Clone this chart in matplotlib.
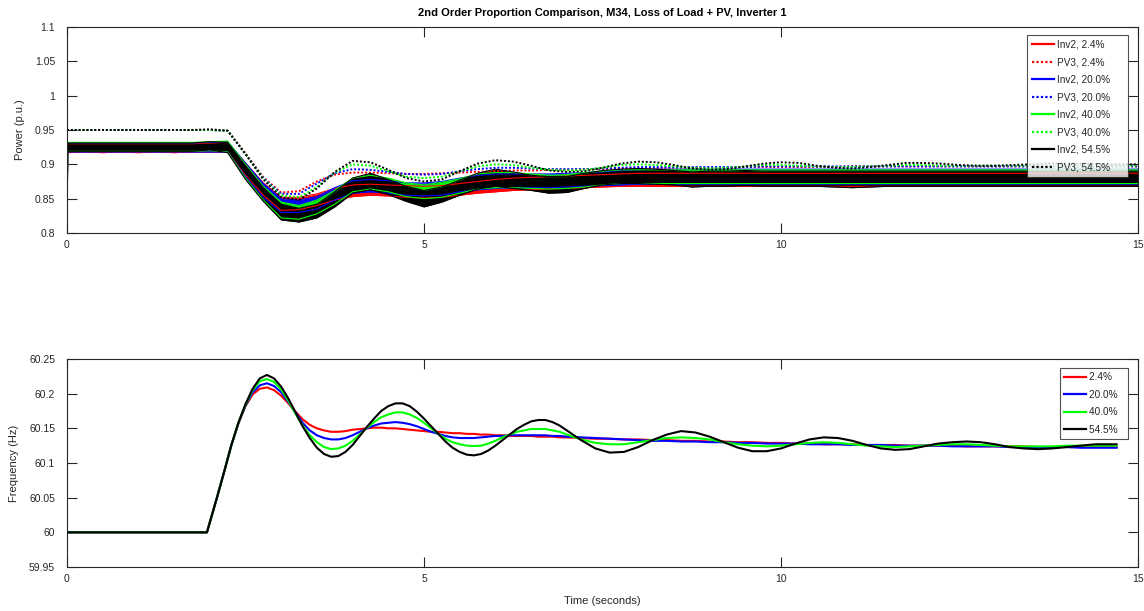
import numpy as np
import matplotlib
matplotlib.use("Agg")
import matplotlib.pyplot as plt

plt.rcParams['font.family'] = ['Liberation Sans', 'DejaVu Sans']

# ---------- DATA ----------
# power time grid (s)
t_pow = [0.0, 0.01] + [0.25 * k for k in range(1, 61)]

# PV3 (dotted) power, p.u.
pv3_24 = [0.950, 0.950, 0.950, 0.950, 0.950, 0.950, 0.950, 0.950, 0.950, 0.950,
          0.949, 0.916, 0.881, 0.859, 0.861, 0.875, 0.885, 0.888, 0.888, 0.887,
          0.886, 0.886, 0.887, 0.888, 0.889, 0.890, 0.891, 0.891, 0.892, 0.892,
          0.893, 0.893, 0.894, 0.894, 0.894, 0.895, 0.895, 0.895, 0.895, 0.896,
          0.896, 0.896, 0.896, 0.896, 0.896, 0.897, 0.897, 0.897, 0.897, 0.897,
          0.897, 0.897, 0.897, 0.897, 0.897, 0.897, 0.897, 0.897, 0.897, 0.897,
          0.897, 0.897]
pv3_20 = [0.950, 0.950, 0.950, 0.950, 0.950, 0.950, 0.950, 0.950, 0.950, 0.950,
          0.949, 0.915, 0.880, 0.857, 0.857, 0.872, 0.887, 0.893, 0.892, 0.889,
          0.886, 0.885, 0.886, 0.890, 0.893, 0.895, 0.895, 0.894, 0.893, 0.893,
          0.893, 0.894, 0.895, 0.896, 0.896, 0.896, 0.896, 0.896, 0.896, 0.896,
          0.897, 0.897, 0.897, 0.897, 0.897, 0.897, 0.897, 0.897, 0.897, 0.897,
          0.897, 0.897, 0.897, 0.897, 0.897, 0.897, 0.897, 0.897, 0.897, 0.897,
          0.897, 0.897]
pv3_40 = [0.950, 0.950, 0.950, 0.950, 0.950, 0.950, 0.950, 0.950, 0.950, 0.950,
          0.949, 0.915, 0.879, 0.855, 0.852, 0.867, 0.888, 0.900, 0.898, 0.890,
          0.882, 0.880, 0.882, 0.890, 0.897, 0.900, 0.899, 0.895, 0.892, 0.891,
          0.892, 0.895, 0.899, 0.900, 0.899, 0.897, 0.895, 0.894, 0.895, 0.897,
          0.899, 0.899, 0.898, 0.897, 0.896, 0.896, 0.897, 0.898, 0.899, 0.899,
          0.898, 0.898, 0.898, 0.898, 0.898, 0.898, 0.898, 0.898, 0.898, 0.898,
          0.898, 0.898]
pv3_545 = [0.950, 0.950, 0.950, 0.950, 0.950, 0.950, 0.950, 0.950, 0.950, 0.951,
           0.949, 0.915, 0.878, 0.852, 0.848, 0.865, 0.889, 0.905, 0.903, 0.892,
           0.880, 0.875, 0.878, 0.890, 0.901, 0.906, 0.904, 0.898, 0.891, 0.889,
           0.890, 0.895, 0.901, 0.904, 0.903, 0.899, 0.894, 0.892, 0.893, 0.897,
           0.901, 0.903, 0.902, 0.898, 0.895, 0.894, 0.896, 0.899, 0.902, 0.902,
           0.901, 0.899, 0.898, 0.898, 0.899, 0.900, 0.901, 0.901, 0.901, 0.900,
           0.900, 0.900]

# Inv2 (noisy) power, lower / upper edge of the noise band, p.u.
inv2_24_lo = [0.800, 0.917, 0.918, 0.917, 0.918, 0.917, 0.918, 0.917, 0.918, 0.918,
              0.918, 0.884, 0.855, 0.833, 0.834, 0.840, 0.848, 0.853, 0.855, 0.854,
              0.852, 0.851, 0.852, 0.855, 0.858, 0.860, 0.862, 0.863, 0.864, 0.865,
              0.866, 0.867, 0.868, 0.868, 0.868, 0.868, 0.868, 0.868, 0.868, 0.868,
              0.868, 0.868, 0.868, 0.868, 0.868, 0.868, 0.868, 0.868, 0.868, 0.868,
              0.868, 0.868, 0.868, 0.868, 0.868, 0.868, 0.868, 0.868, 0.868, 0.868,
              0.868, 0.868]
inv2_24_hi = [0.930, 0.930, 0.930, 0.930, 0.930, 0.930, 0.930, 0.930, 0.930, 0.931,
              0.932, 0.902, 0.873, 0.852, 0.852, 0.857, 0.865, 0.870, 0.871, 0.870,
              0.869, 0.868, 0.869, 0.872, 0.875, 0.878, 0.880, 0.881, 0.882, 0.883,
              0.884, 0.885, 0.886, 0.887, 0.887, 0.887, 0.887, 0.887, 0.887, 0.887,
              0.887, 0.887, 0.887, 0.887, 0.887, 0.887, 0.887, 0.887, 0.887, 0.887,
              0.887, 0.887, 0.887, 0.887, 0.887, 0.887, 0.887, 0.887, 0.887, 0.887,
              0.887, 0.887]
inv2_20_lo = [0.800, 0.918, 0.918, 0.918, 0.918, 0.918, 0.918, 0.918, 0.918, 0.918,
              0.918, 0.882, 0.852, 0.830, 0.830, 0.835, 0.848, 0.858, 0.860, 0.858,
              0.855, 0.854, 0.855, 0.860, 0.863, 0.865, 0.866, 0.866, 0.866, 0.867,
              0.868, 0.869, 0.870, 0.871, 0.871, 0.871, 0.871, 0.871, 0.871, 0.871,
              0.871, 0.871, 0.871, 0.871, 0.871, 0.871, 0.871, 0.871, 0.871, 0.871,
              0.871, 0.871, 0.871, 0.871, 0.871, 0.871, 0.871, 0.871, 0.871, 0.871,
              0.871, 0.871]
inv2_20_hi = [0.931, 0.931, 0.931, 0.931, 0.931, 0.931, 0.931, 0.931, 0.931, 0.932,
              0.933, 0.902, 0.872, 0.850, 0.848, 0.853, 0.866, 0.876, 0.878, 0.876,
              0.873, 0.873, 0.875, 0.880, 0.884, 0.886, 0.886, 0.886, 0.886, 0.887,
              0.888, 0.889, 0.891, 0.892, 0.893, 0.893, 0.893, 0.893, 0.893, 0.893,
              0.893, 0.893, 0.893, 0.893, 0.893, 0.893, 0.893, 0.893, 0.893, 0.893,
              0.893, 0.893, 0.893, 0.893, 0.893, 0.893, 0.893, 0.893, 0.893, 0.893,
              0.893, 0.893]
inv2_40_lo = [0.800, 0.919, 0.919, 0.919, 0.919, 0.919, 0.919, 0.919, 0.919, 0.920,
              0.918, 0.880, 0.848, 0.822, 0.820, 0.828, 0.842, 0.860, 0.864, 0.860,
              0.853, 0.850, 0.852, 0.858, 0.864, 0.866, 0.866, 0.865, 0.864, 0.865,
              0.867, 0.870, 0.872, 0.872, 0.872, 0.872, 0.872, 0.872, 0.872, 0.872,
              0.872, 0.872, 0.872, 0.872, 0.872, 0.872, 0.872, 0.872, 0.872, 0.872,
              0.872, 0.872, 0.872, 0.872, 0.872, 0.872, 0.872, 0.872, 0.872, 0.872,
              0.872, 0.872]
inv2_40_hi = [0.932, 0.932, 0.932, 0.932, 0.932, 0.932, 0.932, 0.932, 0.932, 0.933,
              0.934, 0.900, 0.868, 0.845, 0.840, 0.848, 0.862, 0.880, 0.884, 0.880,
              0.873, 0.870, 0.874, 0.879, 0.886, 0.888, 0.888, 0.886, 0.884, 0.885,
              0.888, 0.890, 0.892, 0.892, 0.892, 0.892, 0.892, 0.892, 0.892, 0.892,
              0.892, 0.892, 0.892, 0.892, 0.892, 0.892, 0.892, 0.892, 0.892, 0.892,
              0.892, 0.892, 0.892, 0.892, 0.892, 0.892, 0.892, 0.892, 0.892, 0.892,
              0.892, 0.892]
inv2_545_lo = [0.800, 0.919, 0.919, 0.919, 0.919, 0.919, 0.919, 0.919, 0.919, 0.921,
               0.917, 0.878, 0.846, 0.819, 0.816, 0.822, 0.838, 0.858, 0.863, 0.856,
               0.846, 0.838, 0.845, 0.855, 0.864, 0.868, 0.865, 0.862, 0.858, 0.859,
               0.865, 0.870, 0.872, 0.872, 0.871, 0.870, 0.867, 0.868, 0.868, 0.869,
               0.868, 0.868, 0.868, 0.868, 0.867, 0.866, 0.867, 0.868, 0.868, 0.868,
               0.868, 0.868, 0.868, 0.868, 0.868, 0.868, 0.868, 0.868, 0.868, 0.868,
               0.868, 0.868]
inv2_545_hi = [0.931, 0.931, 0.931, 0.931, 0.931, 0.931, 0.931, 0.931, 0.931, 0.933,
               0.932, 0.898, 0.866, 0.842, 0.836, 0.842, 0.860, 0.880, 0.887, 0.878,
               0.868, 0.862, 0.867, 0.877, 0.887, 0.893, 0.889, 0.884, 0.882, 0.882,
               0.887, 0.891, 0.893, 0.894, 0.893, 0.891, 0.889, 0.890, 0.890, 0.891,
               0.890, 0.890, 0.890, 0.890, 0.890, 0.890, 0.890, 0.890, 0.890, 0.890,
               0.890, 0.890, 0.890, 0.890, 0.890, 0.890, 0.890, 0.890, 0.890, 0.890,
               0.890, 0.890]

# frequency time grid (s): fine while oscillating hard, coarser later
t_freq = ([0.0, 1.96] + [round(2.1 + 0.1 * k, 2) for k in range(50)]
          + [round(7.2 + 0.2 * k, 2) for k in range(38)] + [14.7])

freq_24 = [60.0, 60.0,
           60.050, 60.087, 60.125, 60.157, 60.182, 60.199, 60.207, 60.209, 60.205, 60.197,
           60.186, 60.174, 60.163, 60.155, 60.150, 60.147, 60.145, 60.145, 60.146, 60.148,
           60.149, 60.150, 60.151, 60.151, 60.150, 60.150, 60.149, 60.148, 60.147, 60.146,
           60.145, 60.145, 60.144, 60.143, 60.143, 60.142, 60.142, 60.141, 60.141, 60.140,
           60.140, 60.139, 60.139, 60.139, 60.139, 60.138, 60.138, 60.138, 60.137, 60.137,
           60.136, 60.135, 60.135, 60.134, 60.134, 60.133, 60.133, 60.132, 60.132, 60.131,
           60.131, 60.130, 60.130, 60.129, 60.129, 60.128, 60.128, 60.127, 60.127, 60.127,
           60.126, 60.126, 60.126, 60.125, 60.125, 60.125, 60.125, 60.124, 60.124, 60.124,
           60.124, 60.124, 60.123, 60.123, 60.123, 60.123, 60.123, 60.123,
           60.123]
freq_20 = [60.0, 60.0,
           60.050, 60.087, 60.125, 60.157, 60.183, 60.202, 60.212, 60.215, 60.211, 60.202,
           60.188, 60.173, 60.158, 60.147, 60.140, 60.136, 60.134, 60.134, 60.136, 60.140,
           60.145, 60.150, 60.154, 60.157, 60.158, 60.159, 60.158, 60.156, 60.153, 60.149,
           60.145, 60.142, 60.139, 60.137, 60.136, 60.136, 60.136, 60.137, 60.138, 60.139,
           60.139, 60.140, 60.140, 60.140, 60.140, 60.140, 60.140, 60.139, 60.139, 60.138,
           60.137, 60.136, 60.135, 60.134, 60.133, 60.132, 60.132, 60.131, 60.131, 60.130,
           60.130, 60.129, 60.129, 60.128, 60.128, 60.128, 60.127, 60.127, 60.127, 60.126,
           60.126, 60.126, 60.125, 60.125, 60.125, 60.125, 60.124, 60.124, 60.124, 60.124,
           60.123, 60.123, 60.123, 60.123, 60.123, 60.122, 60.122, 60.122,
           60.122]
freq_40 = [60.0, 60.0,
           60.050, 60.087, 60.125, 60.158, 60.184, 60.205, 60.218, 60.221, 60.217, 60.206,
           60.190, 60.171, 60.154, 60.140, 60.130, 60.123, 60.120, 60.121, 60.125, 60.132,
           60.141, 60.151, 60.159, 60.166, 60.170, 60.173, 60.173, 60.170, 60.165, 60.158,
           60.150, 60.142, 60.135, 60.130, 60.127, 60.125, 60.1245, 60.125, 60.128, 60.132,
           60.137, 60.141, 60.145, 60.147, 60.149, 60.149, 60.149, 60.147, 60.145, 60.141,
           60.134, 60.129, 60.127, 60.127, 60.130, 60.133, 60.136, 60.137, 60.136, 60.134,
           60.130, 60.127, 60.125, 60.124, 60.125, 60.127, 60.129, 60.130, 60.129, 60.127,
           60.125, 60.124, 60.123, 60.124, 60.125, 60.126, 60.127, 60.127, 60.126, 60.125,
           60.124, 60.124, 60.124, 60.124, 60.125, 60.125, 60.125, 60.125,
           60.125]
freq_545 = [60.0, 60.0,
            60.050, 60.087, 60.125, 60.158, 60.185, 60.207, 60.222, 60.227, 60.222, 60.210,
            60.193, 60.173, 60.153, 60.136, 60.122, 60.113, 60.109, 60.110, 60.116, 60.126,
            60.139, 60.152, 60.164, 60.175, 60.182, 60.186, 60.186, 60.182, 60.174, 60.164,
            60.153, 60.142, 60.131, 60.122, 60.116, 60.112, 60.111, 60.113, 60.118, 60.125,
            60.133, 60.141, 60.149, 60.155, 60.160, 60.162, 60.162, 60.159, 60.154, 60.147,
            60.133, 60.121, 60.115, 60.116, 60.123, 60.133, 60.141, 60.146, 60.144, 60.138,
            60.130, 60.122, 60.117, 60.117, 60.121, 60.128, 60.134, 60.137, 60.136, 60.132,
            60.126, 60.121, 60.119, 60.120, 60.124, 60.128, 60.130, 60.131, 60.130, 60.127,
            60.123, 60.121, 60.120, 60.121, 60.123, 60.125, 60.127, 60.127,
            60.127]

labels = ["2.4%", "20.0%", "40.0%", "54.5%"]
colors = ["#ff0000", "#0000ff", "#00ff00", "#000000"]

# ---------- PLOT ----------
fig = plt.figure(figsize=(11.44, 6.11), dpi=100)
ax1 = fig.add_axes([67 / 1144, 1 - 233 / 611, (1138 - 67) / 1144, 206 / 611])
ax2 = fig.add_axes([67 / 1144, 1 - 567 / 611, (1138 - 67) / 1144, 208 / 611])

dotted = (0, (1, 1))
inv_lo = [inv2_24_lo, inv2_20_lo, inv2_40_lo, inv2_545_lo]
inv_hi = [inv2_24_hi, inv2_20_hi, inv2_40_hi, inv2_545_hi]
pv3 = [pv3_24, pv3_20, pv3_40, pv3_545]
# trailing spaces mimic the wide MATLAB legend box
for lo, hi, pv, c, lab in zip(inv_lo, inv_hi, pv3, colors, labels):
    ax1.fill_between(t_pow, lo, hi, color=c, lw=0)
    ax1.plot(t_pow, lo, color=c, lw=0.8, label="Inv2, " + lab + "     ")
    ax1.plot(t_pow, hi, color=c, lw=0.8)
    ax1.plot(t_pow, pv, color=c, lw=1.4, ls=dotted, label="PV3, " + lab + "     ")

for f, c, lab in zip([freq_24, freq_20, freq_40, freq_545], colors, labels):
    ax2.plot(t_freq, f, color=c, lw=1.5, label=lab + "  ")

ax1.set_xlim(0, 15)
ax1.set_ylim(0.8, 1.1)
ax1.set_yticks(np.arange(0.8, 1.101, 0.05))
ax1.set_yticklabels(["0.8", "0.85", "0.9", "0.95", "1", "1.05", "1.1"])
ax2.set_xlim(0, 15)
ax2.set_ylim(59.95, 60.25)
ax2.set_yticks(np.arange(59.95, 60.2501, 0.05))
ax2.set_yticklabels(["59.95", "60", "60.05", "60.1", "60.15", "60.2", "60.25"])

gray = "#262626"
for ax in (ax1, ax2):
    ax.set_xticks([0, 5, 10, 15])
    ax.tick_params(direction="in", length=7, width=0.8, top=True, right=True,
                   labelsize=7.5, colors=gray, pad=5)
    ax.tick_params(axis="y", pad=8.5)
    for s in ax.spines.values():
        s.set_color(gray)
        s.set_linewidth(0.8)

ax1.set_title("2nd Order Proportion Comparison, M34, Loss of Load + PV, Inverter 1",
              fontsize=8, fontweight="bold", pad=8)
ax1.set_ylabel("Power (p.u.)", fontsize=8, color=gray, labelpad=7.5)
ax2.set_ylabel("Frequency (Hz)", fontsize=8, color=gray, labelpad=7)
ax2.set_xlabel("Time (seconds)", fontsize=8, color=gray, labelpad=9)

leg_kw = dict(fontsize=7.2, frameon=True, fancybox=False, borderaxespad=0,
              handlelength=2.2, handletextpad=0.3, borderpad=0.45, labelspacing=0.75)
l1 = ax1.legend(loc="upper right", bbox_to_anchor=(0.9907, 0.961), **leg_kw)
l2 = ax2.legend(loc="upper right", bbox_to_anchor=(0.9907, 0.957), **leg_kw)
for lg in (l1, l2):
    lg.get_frame().set_edgecolor(gray)
    lg.get_frame().set_linewidth(0.8)
    for ln in lg.get_lines():
        ln.set_linewidth(1.6)
    for txt in lg.get_texts():
        txt.set_color(gray)

fig.savefig("out.png", dpi=100)
